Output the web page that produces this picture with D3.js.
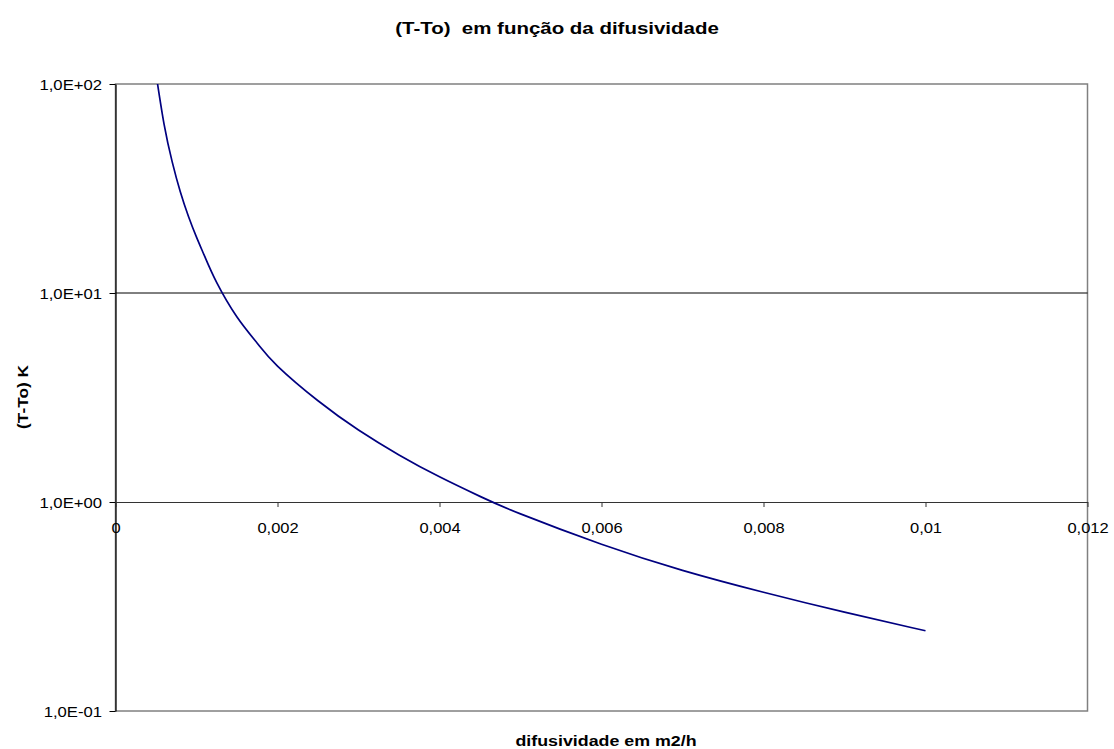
<!DOCTYPE html>
<html>
<head>
<meta charset="utf-8">
<script src="https://cdn.jsdelivr.net/npm/d3@7"></script>
<style>
  body { margin: 0; background: #fff; }
  text { font-family: Arial, "Liberation Sans", sans-serif; fill: #000; }
</style>
</head>
<body>
<div id="main"></div>
<script>
// difusividade (m2/h) and (T-To) in K
var difus = [0.0005, 0.0006, 0.0007, 0.0008, 0.0009, 0.001, 0.0011, 0.00125, 0.0015, 0.00175,
             0.002, 0.0025, 0.003, 0.0035, 0.004, 0.0045, 0.005, 0.006, 0.007, 0.008, 0.009, 0.01];
var deltaT = [112, 64.1, 42.4, 30.5, 23.3, 18.5, 15.0, 11.2, 7.67, 5.75,
              4.47, 3.05, 2.21, 1.68, 1.32, 1.064, 0.877, 0.628, 0.471, 0.370, 0.297, 0.242];
var xTicks = [0, 0.002, 0.004, 0.006, 0.008, 0.01, 0.012];
var yTicks = [0.1, 1, 10, 100];

var W = 1114, H = 749;
var pLeft = 115.5, pRight = 1087.5, pTop = 84, pBottom = 711;

var svg = d3.select('#main').append('svg').attr('width', W).attr('height', H);

var x = d3.scaleLinear().domain([0, 0.012]).range([pLeft, pRight]);
var y = d3.scaleLog().domain([0.1, 100]).range([pBottom, pTop]);

var comma = d3.formatLocale({decimal: ',', thousands: '.', grouping: [3], currency: ['', '']});
var fx = comma.format('~g');
function fexp(v) {
    var e = Math.round(Math.log10(v));
    var s = e < 0 ? '-' : '+';
    return '1,0E' + s + (Math.abs(e) < 10 ? '0' : '') + Math.abs(e);
}

// plot area border (gray)
svg.append('rect')
    .attr('x', pLeft).attr('y', pTop)
    .attr('width', pRight - pLeft).attr('height', pBottom - pTop)
    .attr('fill', 'none').attr('stroke', '#808080').attr('stroke-width', 1.5);

// horizontal gridlines
svg.append('g').selectAll('line')
    .data([10])
    .enter().append('line')
    .attr('x1', pLeft).attr('x2', pRight)
    .attr('y1', d => y(d)).attr('y2', d => y(d))
    .attr('stroke', '#000').attr('stroke-width', 1);

// y axis
var yAxis = svg.append('g')
    .attr('transform', 'translate(' + pLeft + ',0)')
    .call(d3.axisLeft(y).tickValues(yTicks).tickFormat(fexp).tickSize(6).tickSizeOuter(0));
yAxis.select('.domain').attr('stroke', '#000').attr('stroke-width', 1.2);
yAxis.selectAll('.tick line').attr('stroke', '#000');
yAxis.selectAll('.tick text')
    .attr('font-size', 14.5).attr('font-family', 'Arial, "Liberation Sans", sans-serif')
    .attr('x', null).attr('dy', null)
    .attr('transform', 'translate(-13.5,5) scale(1.15,1)')
    .attr('text-anchor', 'end');

// x axis crossing at y = 1
var xAxis = svg.append('g')
    .attr('transform', 'translate(0,' + y(1) + ')')
    .call(d3.axisBottom(x).tickValues(xTicks).tickFormat(fx).tickSize(5).tickSizeOuter(0));
xAxis.select('.domain').attr('stroke', '#333').attr('stroke-width', 1.2);
xAxis.selectAll('.tick line').attr('stroke', '#333');
xAxis.selectAll('.tick text')
    .attr('font-size', 15).attr('font-family', 'Arial, "Liberation Sans", sans-serif')
    .attr('y', null).attr('dy', null)
    .attr('transform', 'translate(0,31) scale(1.1,1)')
    .attr('text-anchor', 'middle');

// curve
svg.append('clipPath').attr('id', 'clip')
    .append('rect').attr('x', pLeft).attr('y', pTop)
    .attr('width', pRight - pLeft).attr('height', pBottom - pTop);

var line = d3.line()
    .x((d, i) => x(difus[i]))
    .y(d => y(d))
    .curve(d3.curveNatural);

svg.append('path')
    .datum(deltaT)
    .attr('clip-path', 'url(#clip)')
    .attr('d', line)
    .attr('fill', 'none')
    .attr('stroke', '#000080')
    .attr('stroke-width', 1.7);

// titles
svg.append('g').attr('transform', 'translate(557,34)')
    .append('text')
    .attr('text-anchor', 'middle').attr('font-weight', 'bold').attr('font-size', 16)
    .attr('transform', 'scale(1.28,1)')
    .attr('xml:space', 'preserve')
    .text('(T-To)  em função da difusividade');

svg.append('g').attr('transform', 'translate(606,746)')
    .append('text')
    .attr('text-anchor', 'middle').attr('font-weight', 'bold').attr('font-size', 15.5)
    .attr('transform', 'scale(1.15,1)')
    .text('difusividade em m2/h');

svg.append('g').attr('transform', 'translate(28,397) rotate(-90)')
    .append('text')
    .attr('text-anchor', 'middle').attr('font-weight', 'bold').attr('font-size', 15)
    .attr('transform', 'scale(1.15,1)')
    .text('(T-To) K');
</script>
</body>
</html>
